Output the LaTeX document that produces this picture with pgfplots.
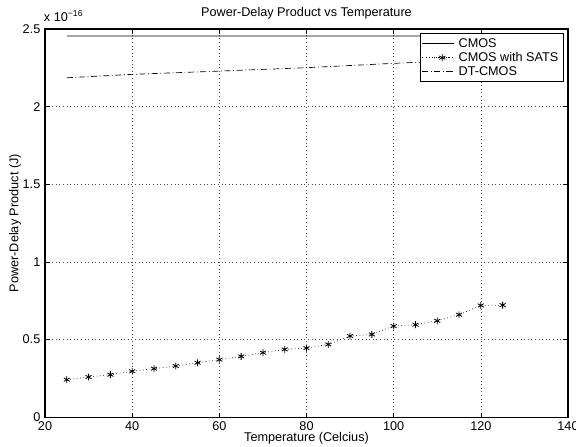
\documentclass[border=0pt]{standalone}
\usepackage{fontspec}
\setmainfont{Liberation Sans}
\usepackage{pgfplots}
\pgfplotsset{compat=1.18}
\begin{document}
\begin{tikzpicture}
\begin{axis}[
  scale only axis, width=392pt, height=291pt,
  xmin=20, xmax=140, ymin=0, ymax=2.5,
  xtick={20,40,60,80,100,120,140},
  ytick={0,0.5,1,1.5,2,2.5},
  yticklabels={0,0.5,1,1.5,2,2.5},
  grid=major,
  major grid style={black!70, line width=0.4pt, dash pattern=on 0.5pt off 2.2pt},
  tick align=inside,
  major tick length=3.5pt,
  tick style={black, line width=0.5pt},
  axis line style={line width=0.9pt},
  font=\fontsize{9.5}{11}\selectfont,
  /pgf/number format/assume math mode=true,
  xlabel={Temperature (Celcius)},
  xlabel style={at={(axis description cs:0.5,-0.055)}, anchor=center},
  ylabel={Power-Delay Product (J)},
  ylabel style={at={(axis description cs:-0.0574,0.5)}, anchor=center},
  legend style={at={(axis description cs:0.717,0.9897)}, anchor=north west,
    draw=black, line width=0.9pt, fill=white, font=\fontsize{9.5}{10}\selectfont,
    inner xsep=1pt, inner ysep=3pt, row sep=1.2pt,
    nodes={inner ysep=0.5pt, inner xsep=3pt}},
  legend cell align=left,
  legend image code/.code={
    \path (0pt,0pt) -- (24pt,0pt);
    \draw[mark repeat=2,mark phase=2,#1] plot coordinates {(9pt,0pt) (15pt,0pt) (21pt,0pt)};},
]
\addplot[black, line width=0.5pt] coordinates {
  (25,2.455) (50,2.455) (75,2.455) (100,2.455) (125,2.456)
};
\addlegendentry{CMOS}
\addplot[black, line width=0.5pt, dash pattern=on 0.5pt off 2pt, mark=asterisk, mark size=2.6pt, mark options={solid, line width=0.6pt}] coordinates {
  (25,0.242) (30,0.259) (35,0.274) (40,0.296) (45,0.313) (50,0.330)
  (55,0.351) (60,0.371) (65,0.392) (70,0.416) (75,0.437) (80,0.445)
  (85,0.469) (90,0.523) (95,0.533) (100,0.587) (105,0.596) (110,0.621)
  (115,0.660) (120,0.720) (125,0.722)
};
\addlegendentry{CMOS with SATS}
\addplot[black, line width=0.5pt, dash pattern=on 4.5pt off 2pt on 0.6pt off 2pt] coordinates {
  (25,2.186) (40,2.208) (60,2.229) (80,2.251) (100,2.279) (125,2.310)
};
\addlegendentry{DT-CMOS}
\end{axis}
\node[anchor=center, inner sep=0pt, font=\fontsize{9.5}{11}\selectfont] at ([yshift=12pt]current axis.north) {Power-Delay Product vs Temperature};
\node[anchor=south west, inner sep=0pt, font=\fontsize{9.5}{10}\selectfont] at ([xshift=-1pt,yshift=5pt]current axis.north west) {x 10\textsuperscript{\fontsize{6.5}{6.5}\selectfont −16}};
\pgfresetboundingbox
\path[use as bounding box] ([xshift=-33.75pt,yshift=-21.75pt]current axis.south west) rectangle ([xshift=6pt,yshift=21.75pt]current axis.north east);
\end{tikzpicture}
\end{document}
